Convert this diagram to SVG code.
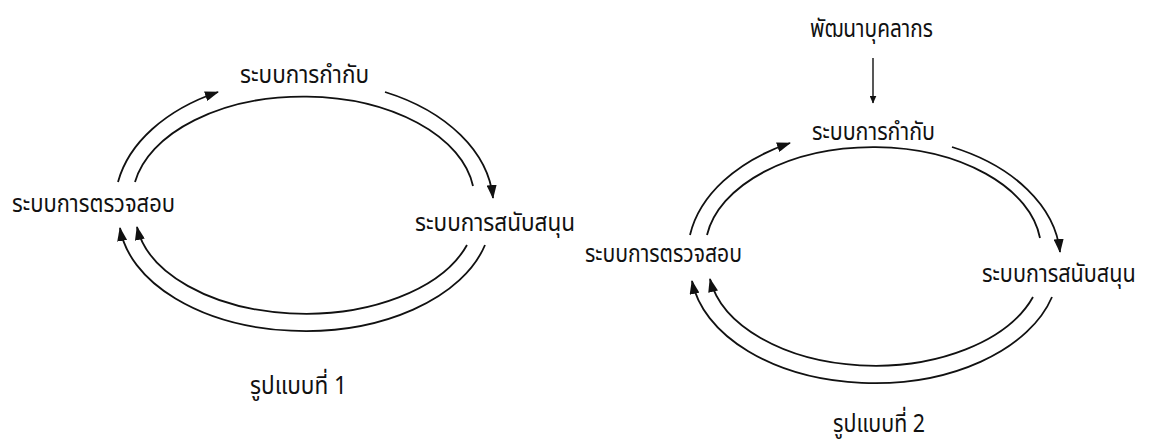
<svg xmlns="http://www.w3.org/2000/svg" width="1151" height="441" viewBox="0 0 1151 441">
<style>
.lbl{font-family:"Noto Sans Thai","Noto Sans","DejaVu Sans",sans-serif;font-size:25px;fill:#111;}
.arc{fill:none;stroke:#111;stroke-width:1.8;}
.arr{marker-end:url(#ah);}
</style>
<defs>
<marker id="ah" markerUnits="userSpaceOnUse" markerWidth="14" markerHeight="10" viewBox="0 0 14 10" refX="13" refY="5" orient="auto">
<path d="M0,0 L14,5 L0,10 z" fill="#111"/>
</marker>
<marker id="ahs" markerUnits="userSpaceOnUse" markerWidth="8" markerHeight="7" viewBox="0 0 8 7" refX="7.5" refY="3.5" orient="auto">
<path d="M0,0 L8,3.5 L0,7 z" fill="#111"/>
</marker>
</defs>
<rect width="1151" height="441" fill="#fff"/>
<g id="connectors">
<path class="arc arr" d="M118,182 A186,126 0 0 1 218,92"/>
<path class="arc" d="M135,182 A171,103 0 0 1 473,186"/>
<path class="arc arr" d="M385,92 A186,126 0 0 1 493,198"/>
<path class="arc arr" d="M467,245 A170,100 0 0 1 137,227"/>
<path class="arc arr" d="M485,245 A186,115 0 0 1 120,228"/>
<path class="arc arr" d="M690,235 A186,125 0 0 1 790,143"/>
<path class="arc" d="M707,235 A168,103 0 0 1 1040,238"/>
<path class="arc arr" d="M952,147 A186,125 0 0 1 1060,252"/>
<path class="arc arr" d="M1033,297 A167,102 0 0 1 710,279"/>
<path class="arc arr" d="M1052,297 A184,117 0 0 1 692,281"/>
<path class="arc" style="stroke-width:1.4;marker-end:url(#ahs)" d="M873,58 L873,103"/>
</g>
<g id="d1-control"><text class="lbl" x="240" y="83" textLength="129" lengthAdjust="spacingAndGlyphs">ระบบการกำกับ</text></g>
<g id="d1-inspect"><text class="lbl" x="12" y="212" textLength="163" lengthAdjust="spacingAndGlyphs">ระบบการตรวจสอบ</text></g>
<g id="d1-support"><text class="lbl" x="415" y="231" textLength="160" lengthAdjust="spacingAndGlyphs">ระบบการสนับสนุน</text></g>
<g id="d1-caption"><text class="lbl" x="250" y="394" textLength="97" lengthAdjust="spacingAndGlyphs">รูปแบบที่ 1</text></g>
<g id="d2-develop"><text class="lbl" x="810" y="37" textLength="123" lengthAdjust="spacingAndGlyphs">พัฒนาบุคลากร</text></g>
<g id="d2-control"><text class="lbl" x="812" y="140" textLength="123" lengthAdjust="spacingAndGlyphs">ระบบการกำกับ</text></g>
<g id="d2-inspect"><text class="lbl" x="585" y="262" textLength="157" lengthAdjust="spacingAndGlyphs">ระบบการตรวจสอบ</text></g>
<g id="d2-support"><text class="lbl" transform="translate(982,282) scale(0.84,1)" x="0" y="0" textLength="183" lengthAdjust="spacingAndGlyphs">ระบบการสนับสนุน</text></g>
<g id="d2-caption"><text class="lbl" x="833" y="432" textLength="92" lengthAdjust="spacingAndGlyphs">รูปแบบที่ 2</text></g>
</svg>
